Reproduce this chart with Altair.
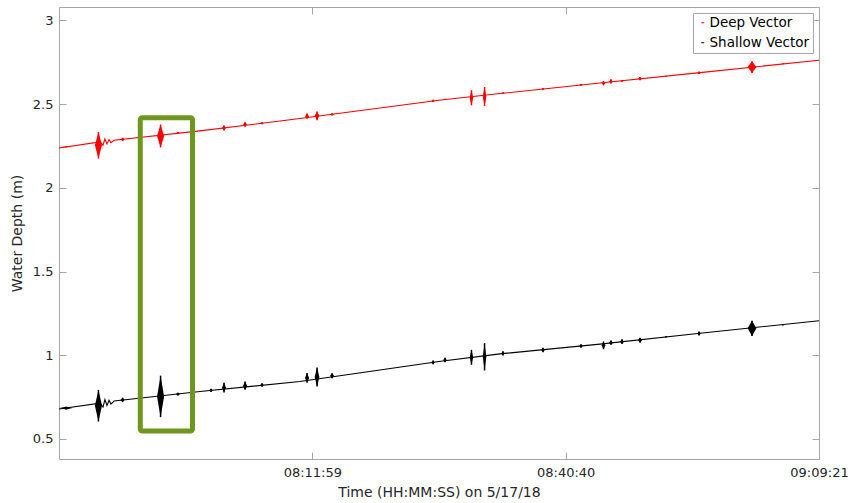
import altair as alt
import pandas as pd

DAY = "2018-05-17"
series_names = ["Deep Vector", "Shallow Vector"]
series_colors = ["#ff0000", "#000000"]

# slowly rising water level (knots)
base_times = ["07:43:18", "07:47:56", "07:48:17", "07:48:30", "07:48:44", "07:48:58",
              "07:49:11", "07:49:32", "07:59:16", "08:10:35", "08:26:19", "08:33:14",
              "08:44:33", "08:55:53", "09:09:21"]
deep_base = [2.238, 2.274, 2.255, 2.292, 2.262, 2.288, 2.270, 2.284, 2.340, 2.414,
             2.523, 2.563, 2.626, 2.688, 2.762]
shallow_base = [0.679, 0.714, 0.690, 0.735, 0.700, 0.730, 0.708, 0.726, 0.783, 0.843,
                0.962, 1.008, 1.066, 1.131, 1.206]

# wave bursts: centre time, half width (s), min / max of each record
burst_times = ["07:44:06", "07:47:46", "07:50:30", "07:54:48", "07:56:46", "08:00:31",
               "08:01:59", "08:04:22", "08:06:17", "08:11:23", "08:12:31", "08:14:13",
               "08:25:39", "08:27:00", "08:30:00", "08:31:29", "08:33:34", "08:38:06",
               "08:42:24", "08:44:57", "08:45:48", "08:47:03", "08:49:05", "08:52:02",
               "08:55:46", "09:01:46", "09:05:16"]
burst_half = [45, 24, 14, 24, 14, 12, 14, 14, 12, 14, 16, 14, 12, 12, 12, 12, 12, 12, 12, 12,
              14, 14, 14, 8, 12, 30, 8]
deep_lo = [2.242, 2.175, 2.279, 2.241, 2.322, 2.346, 2.342, 2.364, 2.380, 2.412, 2.404,
           2.432, 2.512, 2.524, 2.493, 2.489, 2.560, 2.585, 2.610, 2.612, 2.623, 2.633,
           2.642, 2.664, 2.680, 2.686, 2.738]
deep_hi = [2.246, 2.334, 2.299, 2.378, 2.332, 2.350, 2.372, 2.392, 2.392, 2.444, 2.456,
           2.446, 2.526, 2.532, 2.583, 2.602, 2.570, 2.595, 2.620, 2.638, 2.648, 2.643,
           2.662, 2.670, 2.694, 2.756, 2.744]
shallow_lo = [0.676, 0.604, 0.720, 0.630, 0.760, 0.780, 0.777, 0.793, 0.812, 0.835, 0.813,
              0.862, 0.946, 0.958, 0.943, 0.909, 0.998, 1.018, 1.044, 1.036, 1.062, 1.067,
              1.075, 1.106, 1.118, 1.115, 1.178]
shallow_hi = [0.692, 0.793, 0.746, 0.878, 0.776, 0.800, 0.835, 0.843, 0.832, 0.894, 0.926,
              0.892, 0.968, 0.985, 1.032, 1.072, 1.024, 1.044, 1.066, 1.082, 1.088, 1.095,
              1.105, 1.114, 1.142, 1.206, 1.186]

# highlighted record
box_start = ["07:52:30"]
box_end = ["07:58:25"]
box_low = [0.547]
box_high = [2.419]

x_ticks = ["08:11:59", "08:40:40", "09:09:21"]
x_range = ["07:43:18", "09:09:21"]
y_ticks = [0.5, 1, 1.5, 2, 2.5, 3]
y_range = [0.38, 3.08]


def ts(s):
    return pd.Timestamp(f"{DAY} {s}")


def dt(s):
    h, m, sec = (int(v) for v in s.split(":"))
    return alt.DateTime(year=2018, month=5, date=17, hours=h, minutes=m, seconds=sec)


base_rows = []
for name, vals in zip(series_names, [deep_base, shallow_base]):
    for t, v in zip(base_times, vals):
        base_rows.append({"time": ts(t), "depth": v, "series": name})
base_df = pd.DataFrame(base_rows)

area_rows, rule_rows = [], []
for name, los, his in [(series_names[0], deep_lo, deep_hi), (series_names[1], shallow_lo, shallow_hi)]:
    for i, (t, w, lo, hi) in enumerate(zip(burst_times, burst_half, los, his)):
        c = ts(t)
        mid = (lo + hi) / 2
        bid = f"{name}-{i}"
        area_rows.append({"time": c - pd.Timedelta(seconds=w), "lo": mid, "hi": mid, "series": name, "bid": bid})
        area_rows.append({"time": c, "lo": lo, "hi": hi, "series": name, "bid": bid})
        area_rows.append({"time": c + pd.Timedelta(seconds=w), "lo": mid, "hi": mid, "series": name, "bid": bid})
        rule_rows.append({"time": c, "lo": lo, "hi": hi, "series": name})
area_df = pd.DataFrame(area_rows)
rule_df = pd.DataFrame(rule_rows)
box_df = pd.DataFrame({"start": [ts(s) for s in box_start], "end": [ts(s) for s in box_end],
                       "low": box_low, "high": box_high})

GRAY = "#a6a6a6"
TXT = "#262626"
xscale = alt.Scale(domain=[dt(x_range[0]), dt(x_range[1])], nice=False)
yscale = alt.Scale(domain=y_range, nice=False, zero=False)
xvals = [dt(s) for s in x_ticks]
cscale = alt.Scale(domain=series_names, range=series_colors)


def tick_axis(orient, offset, values):
    return alt.Axis(orient=orient, offset=offset, values=values, labels=False, domain=False,
                    ticks=True, tickSize=7, tickColor=GRAY, grid=False, title=None)


lines = alt.Chart(base_df).mark_line(strokeWidth=1.1).encode(
    x=alt.X("time:T", scale=xscale,
            axis=alt.Axis(values=xvals, format="%H:%M:%S", ticks=False, domain=False, grid=False,
                          labelFlush=False, labelOverlap=False, labelPadding=7,
                          title="Time (HH:MM:SS) on 5/17/18", titlePadding=6)),
    y=alt.Y("depth:Q", scale=yscale,
            axis=alt.Axis(values=y_ticks, format="~g", ticks=False, domain=False, grid=False,
                          labelPadding=6, title="Water Depth (m)", titlePadding=8)),
    color=alt.Color("series:N", scale=cscale,
                    legend=alt.Legend(title=None, orient="top-right", offset=6, symbolType="stroke",
                                      symbolSize=9, symbolStrokeWidth=1, fillColor="white",
                                      strokeColor=GRAY, padding=3, rowPadding=5, labelOffset=0,
                                      labelFontSize=13.5, labelColor="black")),
    detail="series:N",
)

bursts = alt.Chart(area_df).mark_area(opacity=1).encode(
    x=alt.X("time:T", scale=xscale, axis=tick_axis("top", -452, xvals)),
    y=alt.Y("lo:Q", scale=yscale, axis=tick_axis("right", -760, y_ticks)),
    y2="hi:Q",
    color=alt.Color("series:N", scale=cscale, legend=None),
    detail="bid:N",
)

spikes = alt.Chart(rule_df).mark_rule(strokeWidth=1.5).encode(
    x=alt.X("time:T", scale=xscale, axis=tick_axis("bottom", -452, xvals)),
    y=alt.Y("lo:Q", scale=yscale, axis=tick_axis("left", -760, y_ticks)),
    y2="hi:Q",
    color=alt.Color("series:N", scale=cscale, legend=None),
)

box = alt.Chart(box_df).mark_rect(fillOpacity=0, stroke="#6f961f", strokeWidth=5, cornerRadius=2).encode(
    x=alt.X("start:T", scale=xscale, axis=None),
    x2="end:T",
    y=alt.Y("low:Q", scale=yscale, axis=None),
    y2="high:Q",
)

chart = alt.layer(lines, bursts, spikes, box).resolve_axis(x="independent", y="independent").properties(
    width=760, height=452,
    padding={"left": 59, "top": 7, "right": 35, "bottom": 44},
    autosize=alt.AutoSizeParams(type="none"),
    background="white",
).configure_view(stroke=GRAY, strokeWidth=1, fill="white").configure_axis(
    labelFont="DejaVu Sans", labelFontSize=13, labelColor=TXT,
    titleFont="DejaVu Sans", titleFontSize=14, titleColor=TXT, titleFontWeight="normal",
).configure_legend(labelFont="DejaVu Sans")

chart.save("out.html", embed_options={"renderer": "svg", "actions": False})
